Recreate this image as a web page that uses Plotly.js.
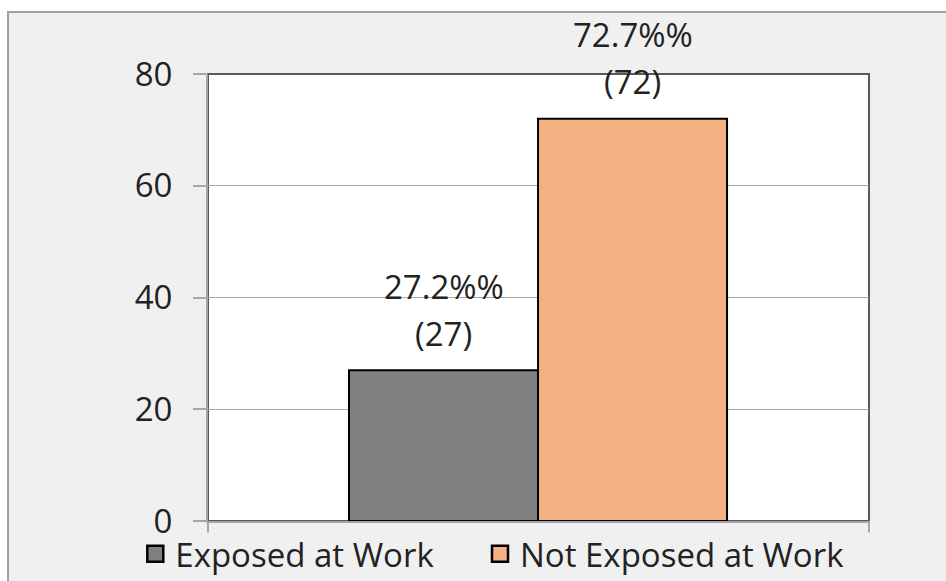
<!DOCTYPE html>
<html>
<head>
<meta charset="utf-8">
<script src="https://cdn.plot.ly/plotly-3.0.1.min.js"></script>
<style>
  html, body { margin: 0; padding: 0; background: #ffffff; width: 946px; height: 581px; overflow: hidden; }
  #frame { position: absolute; left: 7px; top: 11px; width: 939px; height: 570px;
           border-left: 2px solid #a0a0a0; border-top: 2px solid #a0a0a0; background: #f0f0f0; }
  #chart { position: absolute; left: 0; top: 0; width: 937px; height: 568px; }
</style>
</head>
<body>
<div id="frame"><div id="chart"></div></div>
<script>
const categories = ['Exposed at Work', 'Not Exposed at Work'];
const counts = [27, 72];
const percentLabels = ['27.2%%', '72.7%%'];
const barColors = ['#808080', '#f4b183'];
const yTicks = [0, 20, 40, 60, 80];

const FONT = 'Open Sans, Noto Sans, sans-serif';
const textColor = '#222222';
const legendIds = ['legend', 'legend2'];

const traces = [];
categories.forEach((c, i) => {
  traces.push({
    type: 'bar',
    x: [c],
    y: [counts[i]],
    width: 1,
    marker: { color: barColors[i], line: { color: '#000000', width: 2 } },
    showlegend: false,
    legendgroup: c,
    hoverinfo: 'skip'
  });
});
categories.forEach((c, i) => {
  traces.push({
    type: 'scatter',
    mode: 'markers',
    x: [null],
    y: [null],
    name: c,
    legend: legendIds[i],
    legendgroup: c,
    marker: { symbol: 'square', size: 20, color: barColors[i], line: { color: '#000000', width: 2.5 } },
    showlegend: true,
    hoverinfo: 'skip'
  });
});

const annotations = [];
categories.forEach((c, i) => {
  annotations.push({
    x: c, y: counts[i], xref: 'x', yref: 'y',
    text: '(' + counts[i] + ')', showarrow: false,
    yanchor: 'middle', yshift: 37,
    font: { family: FONT, size: 33, color: textColor }
  });
  annotations.push({
    x: c, y: counts[i], xref: 'x', yref: 'y',
    text: percentLabels[i], showarrow: false,
    yanchor: 'middle', yshift: 84,
    font: { family: FONT, size: 33, color: textColor }
  });
});

const legendBase = {
  orientation: 'h',
  xanchor: 'left',
  y: -0.011, yanchor: 'top',
  font: { family: FONT, size: 33, color: textColor },
  bgcolor: 'rgba(0,0,0,0)',
  itemclick: false, itemdoubleclick: false
};

const layout = {
  width: 937, height: 568,
  margin: { l: 199, r: 77, t: 61, b: 60, autoexpand: false },
  paper_bgcolor: '#f0f0f0',
  plot_bgcolor: '#ffffff',
  barmode: 'overlay',
  bargap: 0,
  font: { family: FONT, size: 33, color: textColor },
  xaxis: {
    type: 'category',
    categoryorder: 'array', categoryarray: categories,
    range: [-1.246, 2.251],
    showticklabels: false, ticks: '', showgrid: false, zeroline: false,
    showline: true, linecolor: '#a6a6a6', linewidth: 2,
    fixedrange: true
  },
  yaxis: {
    range: [0, 80],
    tickvals: yTicks,
    ticktext: yTicks.map(String),
    tickfont: { family: FONT, size: 33, color: textColor },
    showgrid: true, gridcolor: '#a6a6a6', gridwidth: 1,
    zeroline: false,
    showline: true, linecolor: '#a6a6a6', linewidth: 2,
    ticks: 'outside', ticklen: 13, tickcolor: '#a6a6a6', tickwidth: 2,
    ticklabelstandoff: 14,
    fixedrange: true
  },
  shapes: [
    { type: 'rect', xref: 'paper', yref: 'paper', x0: 0, x1: 1, y0: 0, y1: 1,
      line: { color: '#595959', width: 2 }, layer: 'below' },
    { type: 'line', xref: 'paper', yref: 'paper', x0: 0, x1: 0, y0: 0, y1: -0.026,
      line: { color: '#a6a6a6', width: 2 } },
    { type: 'line', xref: 'paper', yref: 'paper', x0: 1, x1: 1, y0: 0, y1: -0.026,
      line: { color: '#a6a6a6', width: 2 } }
  ],
  annotations: annotations,
  legend: Object.assign({}, legendBase, { x: -0.11 }),
  legend2: Object.assign({}, legendBase, { x: 0.4115 }),
  showlegend: true
};

Plotly.newPlot('chart', traces, layout, { displayModeBar: false, staticPlot: true });
</script>
</body>
</html>
